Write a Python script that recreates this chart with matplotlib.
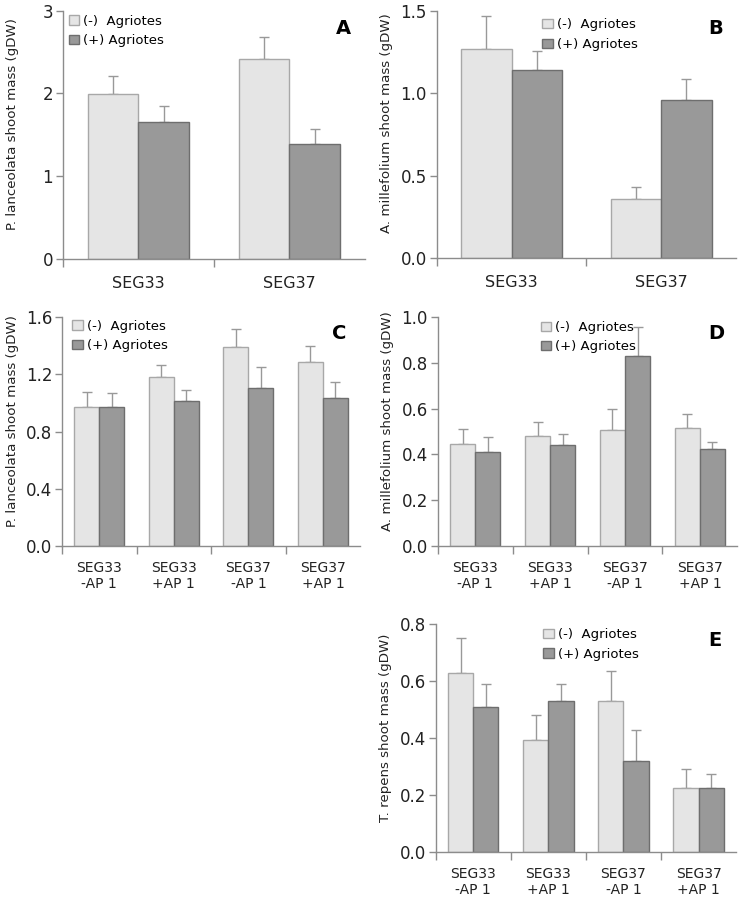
import numpy as np
import matplotlib
matplotlib.use("Agg")
from matplotlib import pyplot as plt
from matplotlib.patches import Patch

# Data (mean, upper error bar end)
groups_ab = ["SEG33", "SEG37"]
groups_cde = ["SEG33\n-AP 1", "SEG33\n+AP 1", "SEG37\n-AP 1", "SEG37\n+AP 1"]

a_minus = [1.99, 2.42]
a_minus_err = [0.22, 0.26]
a_plus = [1.65, 1.39]
a_plus_err = [0.20, 0.18]

b_minus = [1.27, 0.36]
b_minus_err = [0.20, 0.075]
b_plus = [1.14, 0.96]
b_plus_err = [0.12, 0.13]

c_minus = [0.975, 1.18, 1.39, 1.285]
c_minus_err = [0.10, 0.085, 0.125, 0.115]
c_plus = [0.975, 1.015, 1.108, 1.033]
c_plus_err = [0.098, 0.075, 0.142, 0.112]

d_minus = [0.444, 0.479, 0.505, 0.514]
d_minus_err = [0.068, 0.061, 0.092, 0.064]
d_plus = [0.41, 0.442, 0.829, 0.422]
d_plus_err = [0.064, 0.046, 0.127, 0.032]

e_minus = [0.628, 0.392, 0.529, 0.224]
e_minus_err = [0.123, 0.088, 0.108, 0.066]
e_plus = [0.509, 0.53, 0.321, 0.223]
e_plus_err = [0.080, 0.062, 0.108, 0.050]

LIGHT = "#e5e5e5"
LIGHT_EDGE = "#a8a8a8"
DARK = "#999999"
DARK_EDGE = "#6e6e6e"
AXIS = "#8c8c8c"
BW = 0.335


def panel(rect, cats, minus, minus_err, plus, plus_err, yticks, ylabel,
          letter, leg_xy, tick_fs=11, xpad=8, ytick_fmt="{:.1f}"):
    ax = fig.add_axes(rect)
    x = np.arange(len(cats))
    ax.bar(x - BW / 2, minus, BW, color=LIGHT, edgecolor=LIGHT_EDGE, lw=1, zorder=2)
    ax.bar(x + BW / 2, plus, BW, color=DARK, edgecolor=DARK_EDGE, lw=1, zorder=2)
    ax.errorbar(x - BW / 2, minus, yerr=[np.zeros(len(x)), minus_err], fmt="none",
                ecolor="#999999", elinewidth=1, capsize=3.5, capthick=1, zorder=1)
    ax.errorbar(x + BW / 2, plus, yerr=[np.zeros(len(x)), plus_err], fmt="none",
                ecolor="#999999", elinewidth=1, capsize=3.5, capthick=1, zorder=1)
    ax.set_xlim(-0.5, len(cats) - 0.5)
    ax.set_ylim(0, yticks[-1])
    ax.set_yticks(yticks)
    ax.set_yticklabels([ytick_fmt.format(v) for v in yticks])
    # group boundaries get the tick marks, labels sit under the groups
    ax.set_xticks(np.arange(len(cats)) - 0.5)
    ax.set_xticklabels([])
    ax.set_xticks(x, minor=True)
    ax.set_xticklabels(cats, minor=True, fontsize=tick_fs, color="#222222",
                       linespacing=1.15)
    ax.tick_params(axis="x", which="minor", length=0, pad=xpad)
    ax.tick_params(axis="x", which="major", length=6, color=AXIS, width=1)
    ax.tick_params(axis="y", length=5, color=AXIS, width=1, labelsize=12,
                   labelcolor="#222222", pad=2)
    for s in ["top", "right"]:
        ax.spines[s].set_visible(False)
    for s in ["left", "bottom"]:
        ax.spines[s].set_color(AXIS)
        ax.spines[s].set_linewidth(1)
    ax.set_ylabel(ylabel, fontsize=9.6, color="#222222")
    ax.yaxis.set_label_coords(-0.145, 0.545)
    handles = [Patch(facecolor=LIGHT, edgecolor=LIGHT_EDGE),
               Patch(facecolor=DARK, edgecolor=DARK_EDGE)]
    leg = ax.legend(handles, ["(-)  Agriotes", "(+) Agriotes"], loc="upper left",
                    bbox_to_anchor=leg_xy, frameon=False, fontsize=9.5,
                    handlelength=0.8, handleheight=0.7, handletextpad=0.3,
                    labelspacing=0.5, borderpad=0, borderaxespad=0)
    leg.set_zorder(5)
    ax.text(0.93, 0.93, letter, transform=ax.transAxes, fontsize=14,
            fontweight="bold", ha="center", va="center")
    return ax


fig = plt.figure(figsize=(7.4, 8.99), dpi=100)

panel([0.085, 0.712, 0.408, 0.276], groups_ab, a_minus, a_minus_err, a_plus,
      a_plus_err, [0, 1, 2, 3], "P. lanceolata shoot mass (gDW)", "A",
      (0.02, 0.985), tick_fs=11.5, xpad=12, ytick_fmt="{:.0f}")
panel([0.590, 0.7127, 0.405, 0.275], groups_ab, b_minus, b_minus_err, b_plus,
      b_plus_err, [0.0, 0.5, 1.0, 1.5], "A. millefolium shoot mass (gDW)", "B",
      (0.353, 0.97), tick_fs=11.5, xpad=12)
panel([0.0838, 0.3927, 0.403, 0.2544], groups_cde, c_minus, c_minus_err, c_plus,
      c_plus_err, [0.0, 0.4, 0.8, 1.2, 1.6], "P. lanceolata shoot mass (gDW)", "C",
      (0.034, 0.99), tick_fs=10, xpad=11)
panel([0.5915, 0.393, 0.405, 0.254], groups_cde, d_minus, d_minus_err, d_plus,
      d_plus_err, [0.0, 0.2, 0.4, 0.6, 0.8, 1.0], "A. millefolium shoot mass (gDW)", "D",
      (0.344, 0.985), tick_fs=10, xpad=11)
panel([0.5888, 0.0526, 0.406, 0.2528], groups_cde, e_minus, e_minus_err, e_plus,
      e_plus_err, [0.0, 0.2, 0.4, 0.6, 0.8], "T. repens shoot mass (gDW)", "E",
      (0.358, 0.984), tick_fs=10, xpad=11)

plt.savefig("out.png", dpi=100)
